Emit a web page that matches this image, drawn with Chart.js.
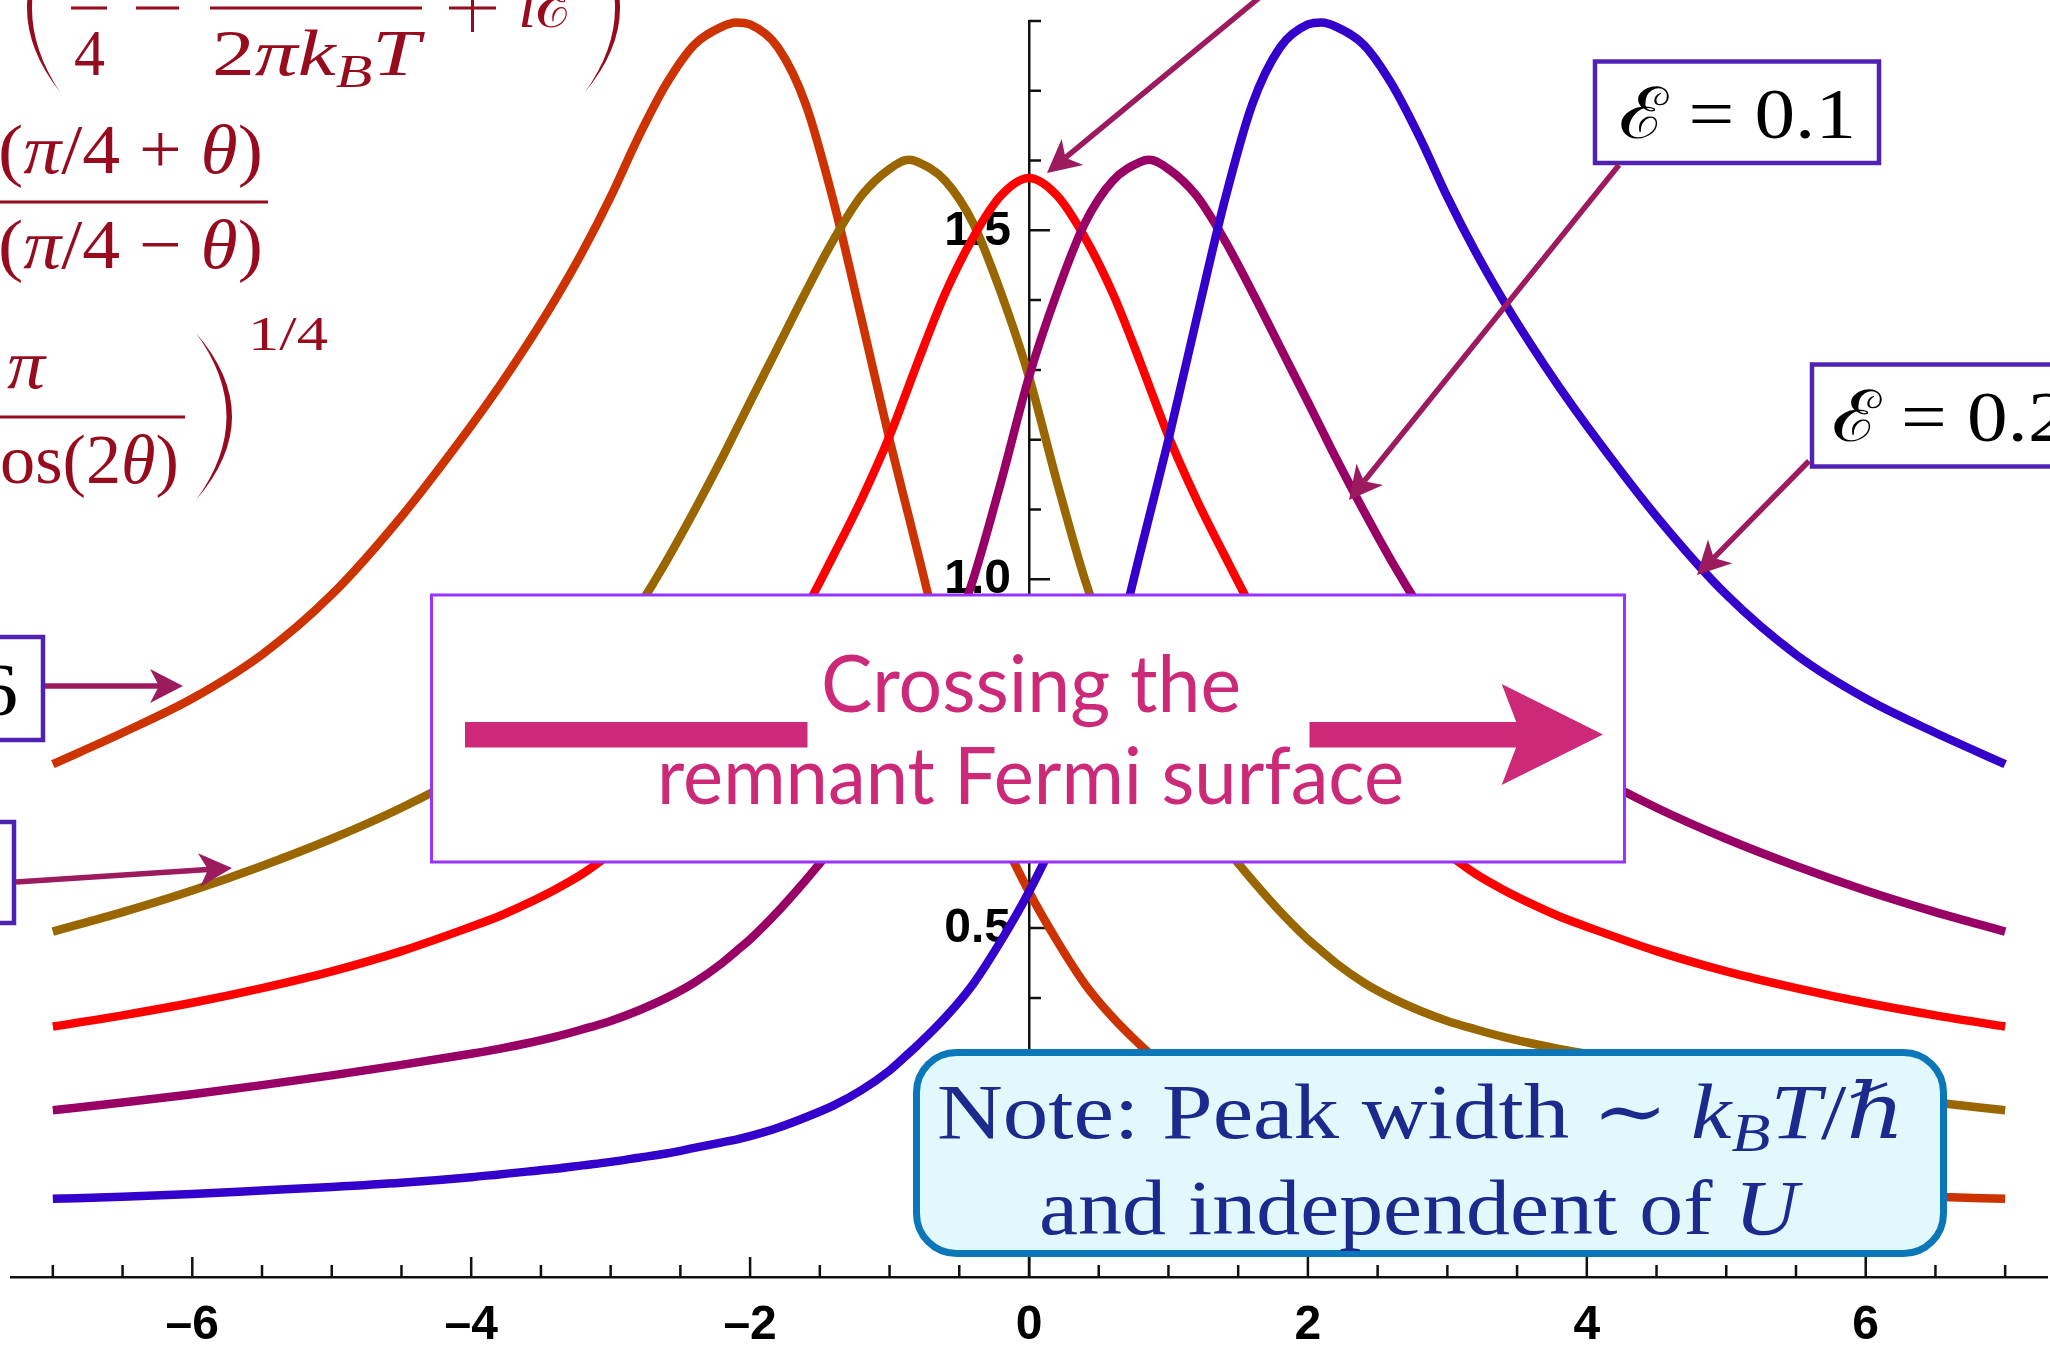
<!DOCTYPE html>
<html>
<head>
<meta charset="utf-8">
<script src="https://cdn.jsdelivr.net/npm/chart.js@4.4.1/dist/chart.umd.min.js"></script>
<style>
  html, body { margin: 0; padding: 0; background: #fff; }
  #wrap { width: 2050px; height: 1352px; position: relative; }
</style>
</head>
<body>
<div id="wrap"><canvas id="chart"></canvas></div>
<script>
// frequency omega / k_B T (shared grid for all curves)
const omega = [-7, -6.5, -6, -5.5, -5, -4.5,
  -4, -3.8, -3.6, -3.4, -3.2, -3, -2.8, -2.6, -2.4, -2.2, -2.1, -2, -1.8, -1.6, -1.4, -1.2, -1, -0.86, -0.8, -0.6, -0.4, -0.2,
  0, 0.2, 0.4, 0.6, 0.8, 0.86, 1, 1.2, 1.4, 1.6, 1.8, 2, 2.1, 2.2, 2.4, 2.6, 2.8, 3, 3.2, 3.4, 3.6, 3.8, 4,
  4.5, 5, 5.5, 6, 6.5, 7];

// spectral function, one array per curve
const specMinus02 = [0.735, 0.78, 0.829, 0.892, 0.978, 1.09,
  1.22, 1.276, 1.336, 1.40, 1.47, 1.548, 1.634, 1.71, 1.766, 1.792, 1.798, 1.795, 1.762, 1.68, 1.54, 1.372, 1.20, 1.088, 1.04, 0.88, 0.745, 0.635,
  0.552, 0.482, 0.42, 0.372, 0.332, 0.321, 0.296, 0.268, 0.246, 0.229, 0.214, 0.202, 0.197, 0.193, 0.185, 0.177, 0.171, 0.165, 0.16, 0.155, 0.151, 0.147, 0.143,
  0.135, 0.129, 0.124, 0.119, 0.115, 0.112];
const specMinus01 = [0.495, 0.523, 0.554, 0.589, 0.628, 0.6725,
  0.725, 0.75, 0.778, 0.811, 0.851, 0.90, 0.96, 1.026, 1.098, 1.174, 1.214, 1.254, 1.333, 1.412, 1.487, 1.55, 1.588, 1.601, 1.598, 1.571, 1.51, 1.41,
  1.29, 1.14, 1.0, 0.89, 0.80, 0.778, 0.726, 0.666, 0.617, 0.569, 0.524, 0.484, 0.467, 0.45, 0.422, 0.40, 0.382, 0.367, 0.355, 0.344, 0.335, 0.327, 0.32,
  0.304, 0.289, 0.275, 0.262, 0.25, 0.239];
const specZero = [0.359, 0.375, 0.393, 0.414, 0.438, 0.467,
  0.502, 0.517, 0.535, 0.555, 0.578, 0.607, 0.64, 0.68, 0.725, 0.775, 0.802, 0.83, 0.89, 0.958, 1.035, 1.115, 1.205, 1.278, 1.31, 1.41, 1.49, 1.55,
  1.575, 1.55, 1.49, 1.41, 1.31, 1.278, 1.205, 1.115, 1.035, 0.958, 0.89, 0.83, 0.802, 0.775, 0.725, 0.68, 0.64, 0.607, 0.578, 0.555, 0.535, 0.517, 0.502,
  0.467, 0.438, 0.414, 0.393, 0.375, 0.359];
const specPlus01 = [0.239, 0.25, 0.262, 0.275, 0.289, 0.304,
  0.32, 0.327, 0.335, 0.344, 0.355, 0.367, 0.382, 0.40, 0.422, 0.45, 0.467, 0.484, 0.524, 0.569, 0.617, 0.666, 0.726, 0.778, 0.80, 0.89, 1.0, 1.14,
  1.29, 1.41, 1.51, 1.571, 1.598, 1.601, 1.588, 1.55, 1.487, 1.412, 1.333, 1.254, 1.214, 1.174, 1.098, 1.026, 0.96, 0.90, 0.851, 0.811, 0.778, 0.75, 0.725,
  0.6725, 0.628, 0.589, 0.554, 0.523, 0.495];
const specPlus02 = [0.112, 0.115, 0.119, 0.124, 0.129, 0.135,
  0.143, 0.147, 0.151, 0.155, 0.16, 0.165, 0.171, 0.177, 0.185, 0.193, 0.197, 0.202, 0.214, 0.229, 0.246, 0.268, 0.296, 0.321, 0.332, 0.372, 0.42, 0.482,
  0.552, 0.635, 0.745, 0.88, 1.04, 1.088, 1.20, 1.372, 1.54, 1.68, 1.762, 1.795, 1.798, 1.792, 1.766, 1.71, 1.634, 1.548, 1.47, 1.40, 1.336, 1.276, 1.22,
  1.09, 0.978, 0.892, 0.829, 0.78, 0.735];

// ticks and tick labels
const xTickMarks = [-7, -6.5, -6, -5.5, -5, -4.5, -4, -3.5, -3, -2.5, -2, -1.5, -1, -0.5,
  0, 0.5, 1, 1.5, 2, 2.5, 3, 3.5, 4, 4.5, 5, 5.5, 6, 6.5, 7];
const yTickMarks = [0.1, 0.2, 0.3, 0.4, 0.5, 0.6, 0.7, 0.8, 0.9, 1.0, 1.1, 1.2, 1.3, 1.4, 1.5, 1.6, 1.7, 1.8];
const xLabelValues = [-6, -4, -2, 0, 2, 4, 6];
const yLabelValues = [0.5, 1.0, 1.5];

const curves = [
  { label: '\u2130 = \u22120.2', values: specMinus02, color: '#cc3300', order: 5 },
  { label: '\u2130 = \u22120.1', values: specMinus01, color: '#996600', order: 4 },
  { label: '\u2130 = 0',        values: specZero,    color: '#ff0000', order: 3 },
  { label: '\u2130 = 0.1',      values: specPlus01,  color: '#990066', order: 2 },
  { label: '\u2130 = 0.2',      values: specPlus02,  color: '#3300cc', order: 1 }
];

const SERIF = '"Liberation Serif", "DejaVu Serif", serif';
const SANS = 'Lato, "Open Sans", sans-serif';
const TICK_FONT = 'bold 48px "Liberation Sans", Arial, sans-serif';

function runFont(family, size, italic) {
  return (italic ? 'italic ' : '') + size + 'px ' + family;
}
function runWidths(ctx, runs, family, size) {
  return runs.map(r => {
    ctx.font = runFont(family, size * (r[2] || 1), r[1]);
    return ctx.measureText(r[0]).width;
  });
}
// horizontal scale needed so that runs[from..] span `width`
function fitScale(ctx, runs, family, size, width, from) {
  const w = runWidths(ctx, runs.slice(from || 0), family, size);
  return width / w.reduce((a, b) => a + b, 0);
}
function drawRuns(ctx, runs, family, x, base, size, sx, align) {
  const w = runWidths(ctx, runs, family, size);
  const total = w.reduce((a, b) => a + b, 0);
  ctx.save();
  ctx.translate(x, base);
  ctx.scale(sx, 1);
  ctx.textAlign = 'left';
  ctx.textBaseline = 'alphabetic';
  let cx = align === 'right' ? -total : 0;
  runs.forEach((r, i) => {
    ctx.font = runFont(family, size * (r[2] || 1), r[1]);
    ctx.fillText(r[0], cx, r[3] || 0);
    cx += w[i];
  });
  ctx.restore();
}
function fitRuns(ctx, runs, family, x, base, size, width, align, from) {
  const sx = fitScale(ctx, runs, family, size, width, from);
  drawRuns(ctx, runs, family, x, base, size, sx, align);
  return sx;
}

// tall parenthesis as a crescent
function bigParen(ctx, xEnd, xBulge, yTop, yBot, thick) {
  const ym = (yTop + yBot) / 2;
  const dir = Math.sign(xBulge - xEnd);
  ctx.beginPath();
  ctx.moveTo(xEnd, yTop);
  ctx.quadraticCurveTo(2 * xBulge - xEnd, ym, xEnd, yBot);
  ctx.quadraticCurveTo(2 * (xBulge - dir * thick) - xEnd, ym, xEnd, yTop);
  ctx.closePath();
  ctx.fill();
}

function arrow(ctx, x1, y1, x2, y2) {
  const a = Math.atan2(y2 - y1, x2 - x1);
  const L = 33, W = 17, N = 24;
  ctx.beginPath();
  ctx.moveTo(x1, y1);
  ctx.lineTo(x2 - N * Math.cos(a), y2 - N * Math.sin(a));
  ctx.stroke();
  ctx.save();
  ctx.translate(x2, y2);
  ctx.rotate(a);
  ctx.beginPath();
  ctx.moveTo(0, 0);
  ctx.lineTo(-L, -W);
  ctx.lineTo(-N, 0);
  ctx.lineTo(-L, W);
  ctx.closePath();
  ctx.fill();
  ctx.restore();
}

function roundBox(ctx, x, y, w, h, r) {
  ctx.beginPath();
  ctx.moveTo(x + r, y);
  ctx.arcTo(x + w, y, x + w, y + h, r);
  ctx.arcTo(x + w, y + h, x, y + h, r);
  ctx.arcTo(x, y + h, x, y, r);
  ctx.arcTo(x, y, x + w, y, r);
  ctx.closePath();
}

function drawFormula(ctx) {
  ctx.fillStyle = '#960b1e';
  // Gamma argument ( 1/4 - i hbar omega / 2 pi k_B T + i E )
  bigParen(ctx, 60, 27, -76, 92, 5);
  bigParen(ctx, 585, 620, -76, 92, 5);
  fitRuns(ctx, [['4', false]], SERIF, 74, 75, 66, 31);
  ctx.fillRect(71, 6.5, 36, 3);
  ctx.fillRect(136, 6.5, 43, 3);
  ctx.fillRect(210, 6.5, 212, 3);
  fitRuns(ctx, [['2', false], ['\u03c0', true], ['k', true], ['B', true, 0.7, 12], ['T', true]], SERIF, 212, 75, 66, 208);
  ctx.fillRect(449, 6.5, 47, 3);
  ctx.fillRect(471, -16, 3, 48);
  fitRuns(ctx, [['i', true], ['\u2130', false]], SERIF, 518, 27, 66, 58);

  // e^{2 pi E} = sin(pi/4 + theta) / sin(pi/4 - theta)
  fitRuns(ctx, [['sin', false], ['(', false], ['\u03c0', true], ['/4 + ', false], ['\u03b8', true], [')', false]],
    SERIF, 263, 173, 70, 265, 'right', 1);
  ctx.fillRect(0, 200.5, 268, 3);
  fitRuns(ctx, [['sin', false], ['(', false], ['\u03c0', true], ['/4 \u2212 ', false], ['\u03b8', true], [')', false]],
    SERIF, 263, 268, 70, 265, 'right', 1);

  // ( pi / cos(2 theta) )^{1/4}
  fitRuns(ctx, [['\u03c0', true]], SERIF, 7, 388, 70, 38);
  ctx.fillRect(0, 415.5, 185, 3);
  fitRuns(ctx, [['c', false], ['os(2', false], ['\u03b8', true], [')', false]], SERIF, 179, 483, 70, 179, 'right', 1);
  bigParen(ctx, 196, 232, 333, 500, 5.5);
  fitRuns(ctx, [['1/4', false]], SERIF, 248, 350, 48, 80);
}

function drawLabelBoxes(ctx) {
  ctx.lineWidth = 4.5;
  ctx.strokeStyle = '#4f22b3';
  [[1595, 61.5, 284, 101.5], [1812, 364.5, 300, 102], [-60, 637, 103, 103], [-60, 822, 74, 101]].forEach(r => {
    ctx.fillStyle = '#fff';
    ctx.fillRect(r[0], r[1], r[2], r[3]);
    ctx.strokeRect(r[0], r[1], r[2], r[3]);
  });
  ctx.fillStyle = '#000';
  const sx = fitRuns(ctx, [['\u2130', false], [' = 0.1', false]], SERIF, 1619, 138, 71, 237);
  drawRuns(ctx, [['\u2130', false], [' = 0.2', false]], SERIF, 1831.5, 441, 71, sx);
  drawRuns(ctx, [['6', false]], SERIF, 18, 715, 75, sx, 'right');
}

function drawCrossing(ctx) {
  ctx.fillStyle = '#fff';
  ctx.fillRect(431.5, 595, 1193, 267);
  ctx.strokeStyle = '#9933ff';
  ctx.lineWidth = 3;
  ctx.strokeRect(431.5, 595, 1193, 267);
  ctx.fillStyle = '#cc2a78';
  fitRuns(ctx, [['Crossing the', false]], SANS, 821, 712, 79, 420);
  fitRuns(ctx, [['remnant Fermi surface', false]], SANS, 657, 804, 79, 747);
  ctx.fillRect(465, 722, 342.5, 25.5);
  ctx.fillRect(1309.5, 722, 212, 25.5);
  ctx.beginPath();
  ctx.moveTo(1603, 734.5);
  ctx.lineTo(1501.7, 684);
  ctx.lineTo(1521, 734.5);
  ctx.lineTo(1501.7, 785);
  ctx.closePath();
  ctx.fill();
}

function drawNote(ctx) {
  roundBox(ctx, 916.5, 1052.5, 1027, 201, 40);
  ctx.fillStyle = '#e1f9fc';
  ctx.fill();
  ctx.strokeStyle = '#0b77b8';
  ctx.lineWidth = 7;
  ctx.stroke();
  ctx.fillStyle = '#1b2a8c';
  fitRuns(ctx, [['Note: Peak width ', false], ['\u223c ', false], ['k', true], ['B', true, 0.7, 13],
    ['T', true], ['/', false], ['\u210f', true]], SERIF, 937, 1138, 78, 968);
  fitRuns(ctx, [['and independent of ', false], ['U', true]], SERIF, 1039, 1234, 78, 759);
}

function drawArrows(ctx) {
  ctx.strokeStyle = '#9b1b5e';
  ctx.fillStyle = '#9b1b5e';
  ctx.lineWidth = 5.5;
  arrow(ctx, 45, 686, 183, 686);
  arrow(ctx, 16, 882, 232, 868);
  arrow(ctx, 1300, -36, 1047, 173);
  arrow(ctx, 1619, 165, 1349, 500);
  arrow(ctx, 1809, 461, 1697, 575);
}

const isIn = (list, v) => list.some(t => Math.abs(t - v) < 1e-6);

const overlay = {
  id: 'overlay',
  beforeDatasetsDraw(chart) {
    const { ctx, scales: { x, y } } = chart;
    const x0 = x.getPixelForValue(0);
    const y0 = y.getPixelForValue(0);
    ctx.save();
    // tick marks: up from the x axis, right of the y axis
    ctx.strokeStyle = '#111';
    ctx.lineWidth = 2.5;
    ctx.beginPath();
    xTickMarks.forEach(v => {
      const px = x.getPixelForValue(v);
      const len = isIn(xLabelValues, v) ? 20 : 12;
      ctx.moveTo(px, y0);
      ctx.lineTo(px, y0 - len);
    });
    yTickMarks.forEach(v => {
      const py = y.getPixelForValue(v);
      const len = isIn(yLabelValues, v) ? 21 : 12;
      ctx.moveTo(x0, py);
      ctx.lineTo(x0 + len, py);
    });
    ctx.stroke();
    // tick labels
    ctx.fillStyle = '#000';
    ctx.font = TICK_FONT;
    ctx.textBaseline = 'middle';
    ctx.textAlign = 'center';
    xLabelValues.forEach(v => {
      ctx.fillText(v < 0 ? '\u2013' + (-v) : String(v), x.getPixelForValue(v), y0 + 49);
    });
    ctx.textAlign = 'right';
    yLabelValues.forEach(v => {
      ctx.fillText(v.toFixed(1), x0 - 18, y.getPixelForValue(v) + 1);
    });
    ctx.restore();
  },
  afterDraw(chart) {
    const ctx = chart.ctx;
    ctx.save();
    drawFormula(ctx);
    drawLabelBoxes(ctx);
    drawCrossing(ctx);
    drawNote(ctx);
    drawArrows(ctx);
    ctx.restore();
  }
};

const noPadding = (scale) => {
  scale.paddingTop = 0;
  scale.paddingBottom = 0;
  scale.paddingLeft = 0;
  scale.paddingRight = 0;
};

new Chart(document.getElementById('chart'), {
  type: 'line',
  data: {
    datasets: curves.map(c => ({
      label: c.label,
      data: omega.map((w, i) => ({ x: w, y: c.values[i] })),
      borderColor: c.color,
      borderWidth: 8.5,
      pointRadius: 0,
      cubicInterpolationMode: 'monotone',
      fill: false,
      clip: false,
      order: c.order
    }))
  },
  options: {
    responsive: true,
    maintainAspectRatio: false,
    animation: false,
    layout: { padding: { left: 11, right: 3, top: 21, bottom: 75 } },
    plugins: {
      legend: { display: false },
      tooltip: { enabled: false }
    },
    scales: {
      x: {
        type: 'linear',
        position: { y: 0 },
        min: -7.3,
        max: 7.3,
        bounds: 'data',
        grid: { display: false, drawTicks: false },
        border: { display: true, color: '#111', width: 2.5 },
        ticks: { display: false },
        afterFit: noPadding
      },
      y: {
        type: 'linear',
        position: { x: 0 },
        min: 0,
        max: 1.8,
        grid: { display: false, drawTicks: false },
        border: { display: true, color: '#111', width: 2.5 },
        ticks: { display: false },
        afterFit: noPadding
      }
    }
  },
  plugins: [overlay]
});
</script>
</body>
</html>
